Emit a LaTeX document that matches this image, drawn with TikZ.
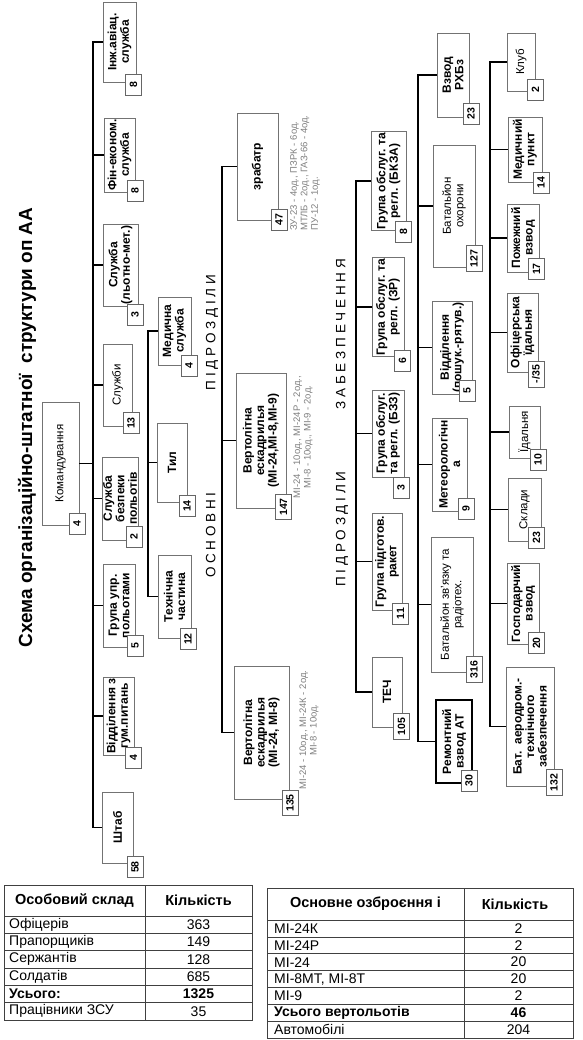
\documentclass[tikz,border=0pt]{standalone}
\usepackage{fontspec}
\setmainfont{Liberation Sans}
\usepackage{xcolor}
\usepackage{tikz}
\usetikzlibrary{positioning,calc}

\begin{document}
\begin{tikzpicture}[x=1pt, y=-1pt,
		ubox/.style={draw=black!55, line width=0.7pt, fill=white, rotate=90, align=center, inner sep=1pt},
		heavy/.style={font=\fontsize{12}{12.5}\selectfont\bfseries},
		light/.style={font=\fontsize{11.5}{12.5}\selectfont},
		blackframe/.style={heavy, draw=black, line width=1.3pt},
		sz/.style 2 args={minimum height=#1pt, minimum width=#2pt},
		nbox/.style={draw=black!60, line width=0.7pt, fill=white, rotate=90, inner xsep=4pt, inner ysep=0pt, minimum width=21pt, minimum height=16pt, font=\fontsize{10.5}{11}\selectfont\bfseries},
		link/.style={line width=1.8pt},
		remark/.style={rotate=90, text=black!50, inner sep=0pt, font=\fontsize{9.5}{10.5}\selectfont},
		bandlabel/.style={rotate=90, inner sep=0pt, font=\fontsize{13.5}{14}\selectfont},
		tabline/.style={draw=black!75, line width=0.8pt},
		tcell/.style={inner sep=0pt, font=\fontsize{14}{14}\selectfont},
		thead/.style={inner sep=0pt, font=\fontsize{14.5}{15}\selectfont\bfseries}]

	\useasboundingbox[fill=white] (0,0) rectangle (582,1040);

	\node[rotate=90, font=\fontsize{19}{21}\selectfont\bfseries] (title) at (27,427.5) {Схема організаційно-штатної\ \ структури оп АА};

	\coordinate (mtr) at (93,0);
	\coordinate (ttr) at (148,0);
	\coordinate (otr) at (222,0);
	\coordinate (ztr1) at (356,0);
	\coordinate (ztr2) at (418,0);
	\coordinate (ztr3) at (490,0);

	\node[ubox, light, sz={37}{123}] (kom) at (60.5,463.5) {Командування};
	\node[nbox] (kom-n) at (77,524) {4};
	\draw[link] (kom.south) -- (kom.south -| mtr);

	\foreach \nm/\tr/\cx/\cy/\bw/\bh/\sty/\txt/\nx/\ny/\cnt in {
			injav/mtr/119.5/42/33/80/heavy/{Інж.авіац.\\служба}/133.5/85/8,
			finek/mtr/119.5/155/31/74/heavy/{Фін-економ.\\служба}/135/191/8,
			lmet/mtr/120.5/265/35/82/heavy/{Служба\\(льотно-мет.)}/135/314.5/3,
			sluzh/mtr/117.5/385/29/82/light/{Служби}/131/423/13,
			bezp/mtr/120/498.5/36/83/heavy/{Служба\\безпеки\\польотів}/134/537/2,
			upr/mtr/119/605.5/32/83/heavy/{Група упр.\\польотами}/135/646/5,
			gum/mtr/118.5/716/31/78/heavy/{Відділення з\\гум.питань}/133.5/758/4,
			shtab/mtr/117.5/827.5/31/71/heavy/{Штаб}/135/867/58,
			medsl/ttr/174.5/331/33/68/heavy/{Медична\\служба}/189/366/4,
			tyl/ttr/172/462.5/30/79/heavy/{Тил}/187/506/14,
			tekhn/ttr/174.5/596.5/33/83/heavy/{Технічна\\частина}/188/639/12,
			zrab/otr/257.5/166.5/41/107/heavy/{зрабатр}/279/219.5/47,
			vert1/otr/261/440.5/50/135/heavy/{Вертолітна\\ескадрилья\\(МІ-24,МІ-8,МІ-9)}/283.5/507/147,
			vert2/otr/261.5/732.5/55/133/heavy/{Вертолітна\\ескадрилья\\(МІ-24, МІ-8)}/290/803/135,
			bkza/ztr1/388.5/181/35/98/heavy/{Група обслуг. та\\регл. (БКЗА)}/403.5/231.5/8,
			zr/ztr1/388/307/32/90/heavy/{Група обслуг. та\\регл. (ЗР)}/402.5/361/6,
			bzz/ztr1/388/433.5/32/87/heavy/{Група обслуг.\\та регл. (БЗЗ)}/401/487.5/3,
			raket/ztr1/387/561.5/30/97/heavy/{Група підготов.\\ракет}/400.5/613.5/11,
			tech/ztr1/387/692/30/70/heavy/{ТЕЧ}/401.5/726.5/105,
			rhbz/ztr2/453/75/32/84/heavy/{Взвод\\РХБз}/471/113.5/23,
			okhor/ztr2/454/206/42/122/light/{Батальйон\\охорони}/474/258.5/127,
			poshuk/ztr2/452/347.5/40/93/heavy/{Відділення\\(пошук.-рятув.)}/467/390.5/5,
			meteo/ztr2/449.5/464.5/35/93/heavy/{Метеорологічн\\а}/466/509/9,
			zvyaz/ztr2/452/604.5/42/135/light/{Батальйон зв'язку та\\радіотех.}/474/669.5/316,
			remont/ztr2/454/741.5/36/83/blackframe/{Ремонтний\\взвод АТ}/469/780.5/30,
			klub/ztr3/521/62/28/58/light/{Клуб}/535.5/89.5/2,
			medp/ztr3/525/149.5/34/65/heavy/{Медичний\\пункт}/541/182.5/14,
			pozh/ztr3/523/238/32/68/heavy/{Пожежний\\взвод}/536.5/269/17,
			ofits/ztr3/522.5/332.5/31/79/heavy/{Офіцерська\\їдальня}/536/374/{-/35},
			idal/ztr3/524.5/432/31/52/light/{Їдальня}/538/459.5/10,
			sklad/ztr3/524.5/509.5/33/63/light/{Склади}/536.5/537.5/23,
			hosp/ztr3/523/603.5/32/81/heavy/{Господарчий\\взвод}/536.5/643/20,
			aerod/ztr3/530/726.5/48/119/heavy/{Бат.\ \ аеродром.-\\технічного\\забезпечення}/554/782.5/132}{
			\node[ubox, \sty, sz={\bw}{\bh}] (\nm) at (\cx,\cy) {\txt};
			\draw[link] (\nm.north) -- (\nm.north -| \tr);
			\node[nbox] (\nm-n) at (\nx,\ny) {\cnt};
		}

	\draw[link, line cap=rect] (injav.north -| mtr) -- (shtab.north -| mtr);
	\draw[link, line cap=rect] (medsl.north -| ttr) -- (tekhn.north -| ttr);
	\draw[link, line cap=rect] (zrab.north -| otr) -- (vert2.north -| otr);
	\draw[link, line cap=rect] (bkza.north -| ztr1) -- (tech.north -| ztr1);
	\draw[link, line cap=rect] (rhbz.north -| ztr2) -- (remont.north -| ztr2);
	\draw[link, line cap=rect] (klub.north -| ztr3) -- (aerod.north -| ztr3);

	\node[bandlabel, anchor=west] (osn) at (212,578) {О С Н О В Н І\hspace{102pt}П І Д Р О З Д І Л И};
	\node[bandlabel, anchor=west] (zab) at (342,587) {П І Д Р О З Д І Л И\hspace{62pt}З А Б Е З П Е Ч Е Н Н Я};

	\node[remark, anchor=north west, align=left] (zrab-r) at (290,231) {ЗУ-23 - 4од., ПЗРК - 6од.\\МТЛБ - 2од., ГАЗ-66 - 4од.\\ПУ-12 - 1од.};
	\node[remark, align=center] (vert1-r) at (303,437) {МІ-24 - 10од., МІ-24Р - 2од.,\\МІ-8 - 10од., МІ-9 - 2од.};
	\node[remark, align=center] (vert2-r) at (309,730) {МІ-24 - 10од., МІ-24К - 2од.\\МІ-8 - 10од.};

	\draw[tabline] (4,885) rectangle (252,1020) (145,885) -- (145,1020) (4,916) -- (252,916);
	\foreach \y in {933.3,950.7,968,985.3,1002.7} \draw[tabline] (4,\y) -- (252,\y);
	\node[thead] (pers-h1) at (74.5,900.5) {Особовий склад};
	\node[thead] (pers-h2) at (198.5,900.5) {Кількість};
	\foreach \lbl/\val [count=\i] in {Офіцерів/363, Прапорщиків/149, Сержантів/128, Солдатів/685, {\bfseries Усього:}/{\bfseries 1325}, Працівники ЗСУ/35}{
			\node[tcell, anchor=west] (pers-l\i) at (9,907.33+17.33*\i) {\lbl};
			\node[tcell] (pers-v\i) at (198.5,907.33+17.33*\i) {\val};
		}

	\draw[tabline] (267,888) rectangle (573,1038) (464,888) -- (464,1038) (267,920) -- (573,920);
	\foreach \y in {936.9,953.7,970.6,987.4,1004.3,1021.1} \draw[tabline] (267,\y) -- (573,\y);
	\node[thead] (arm-h1) at (365.5,904) {Основне озброєння і};
	\node[thead] (arm-h2) at (515,904) {Кількість};
	\foreach \lbl/\val [count=\i] in {МІ-24К/2, МІ-24Р/2, МІ-24/20, {МІ-8МТ, МІ-8Т}/20, МІ-9/2, {\bfseries Усього вертольотів}/{\bfseries 46}, Автомобілі/204}{
			\node[tcell, anchor=west] (arm-l\i) at (274,911.57+16.857*\i) {\lbl};
			\node[tcell] (arm-v\i) at (518.5,911.57+16.857*\i) {\val};
		}
\end{tikzpicture}
\end{document}
